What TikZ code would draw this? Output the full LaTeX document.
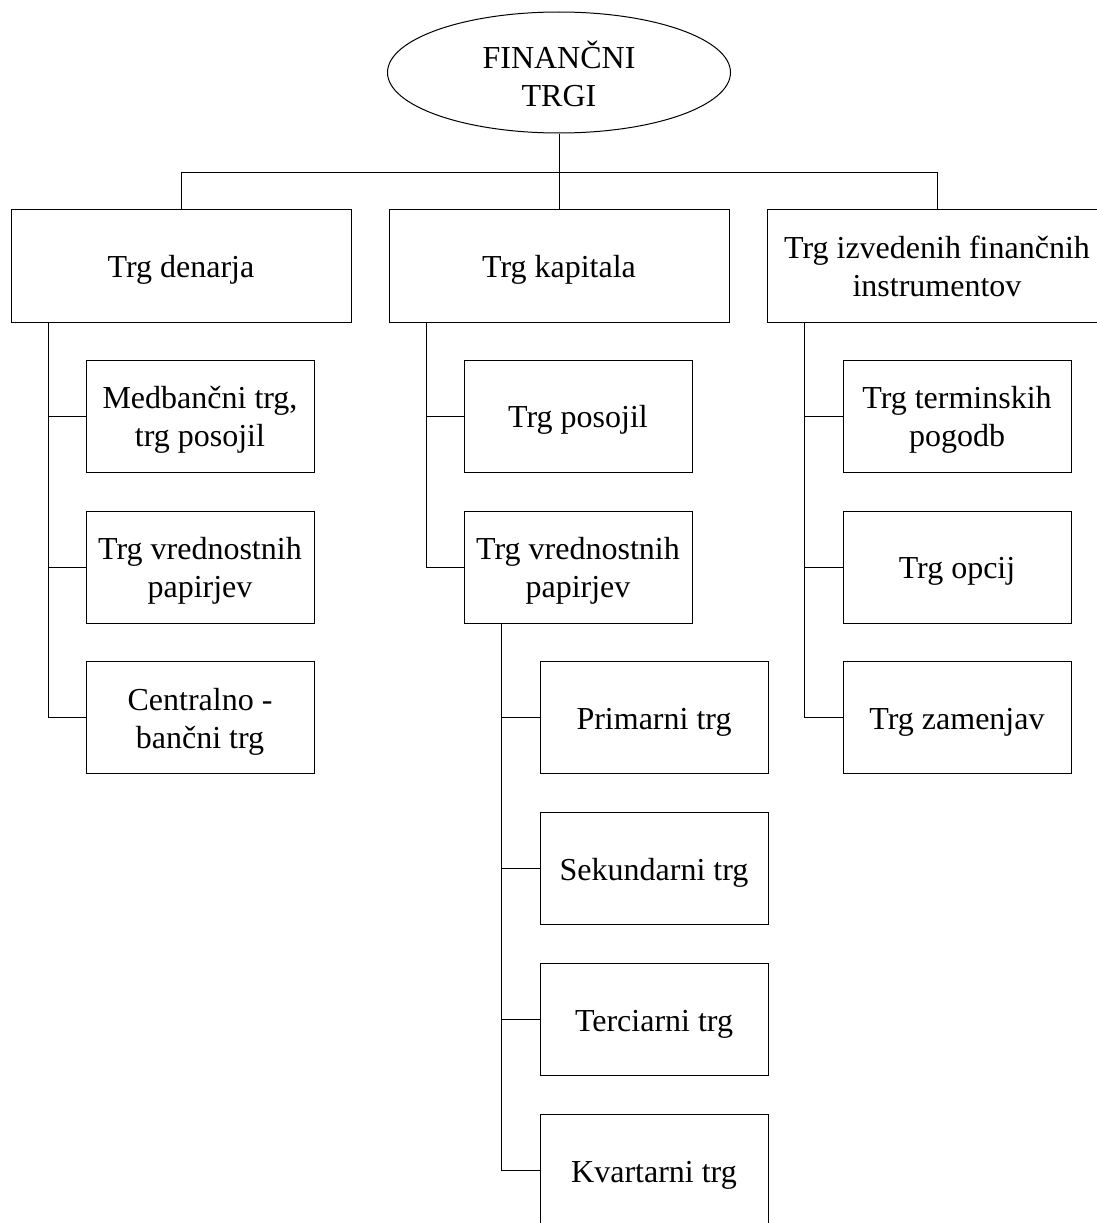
\documentclass[tikz,border=0pt]{standalone}
\usepackage{fontspec}
\setmainfont{Liberation Serif}
\usetikzlibrary{shapes.geometric}
% centred block of lines, drawn a little lower while keeping its reported size
\newcommand\blocktext[2][-4pt]{\raisebox{#1}[\height][\depth]{\begin{tabular}{@{}c@{}}#2\end{tabular}}}
\begin{document}
\begin{tikzpicture}[x=1pt,y=-1pt,
  every node/.style={font=\fontsize{32}{38}\selectfont, inner sep=0pt},
  topbox/.style={draw, line width=1pt, ellipse, minimum width=343pt, minimum height=121pt},
  mainbox/.style={draw, line width=1pt, rectangle, minimum width=340pt, minimum height=113pt},
  subbox/.style={draw, line width=1pt, rectangle, minimum width=228pt, minimum height=112pt},
  link/.style={draw, line width=1pt}]
\useasboundingbox (0,0) rectangle (1097,1223);
\clip (0,0) rectangle (1097,1223);

% root
\node[topbox] (root) at (559,72.5) {\blocktext[-7pt]{FINANČNI\\TRGI}};

% first level
\node[mainbox] (den) at (181,265.5) {\blocktext{Trg denarja}};
\node[mainbox] (kap) at (559,265.5) {\blocktext{Trg kapitala}};
\node[mainbox] (izv) at (937,265.5) {\blocktext{Trg izvedenih finančnih\\instrumentov}};

% money market
\node[subbox] (d1) at (200,416) {\blocktext{Medbančni trg,\\trg posojil}};
\node[subbox] (d2) at (200,567) {\blocktext{Trg vrednostnih\\papirjev}};
\node[subbox] (d3) at (200,717.5) {\blocktext{Centralno -\\bančni trg}};

% capital market
\node[subbox] (k1) at (578,416) {\blocktext{Trg posojil}};
\node[subbox] (k2) at (578,567) {\blocktext{Trg vrednostnih\\papirjev}};
\node[subbox] (p1) at (654,717.5) {\blocktext{Primarni trg}};
\node[subbox] (p2) at (654,868.5) {\blocktext{Sekundarni trg}};
\node[subbox] (p3) at (654,1019.5) {\blocktext{Terciarni trg}};
\node[subbox] (p4) at (654,1170.5) {\blocktext{Kvartarni trg}};

% derivatives market
\node[subbox] (i1) at (957,416) {\blocktext{Trg terminskih\\pogodb}};
\node[subbox] (i2) at (957,567) {\blocktext{Trg opcij}};
\node[subbox] (i3) at (957,717.5) {\blocktext{Trg zamenjav}};

% root to first level
\coordinate (bar) at (559,172);
\draw[link] (root.south) -- (bar);
\draw[link] (bar) -| (den.north);
\draw[link] (bar) -| (izv.north);
\draw[link] (bar) -- (kap.north);

% side buses
\foreach \c in {d1,d2,d3}
  \draw[link] ([xshift=38pt]den.south west) |- (\c.west);
\foreach \c in {k1,k2}
  \draw[link] ([xshift=38pt]kap.south west) |- (\c.west);
\foreach \c in {p1,p2,p3,p4}
  \draw[link] ([xshift=38pt]k2.south west) |- (\c.west);
\foreach \c in {i1,i2,i3}
  \draw[link] ([xshift=38pt]izv.south west) |- (\c.west);
\end{tikzpicture}
\end{document}
